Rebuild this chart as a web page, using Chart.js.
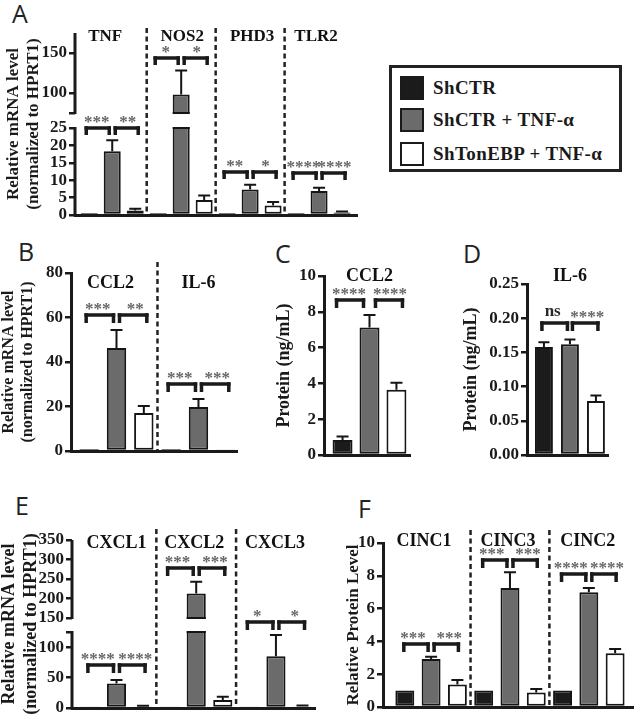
<!DOCTYPE html>
<html><head><meta charset="utf-8">
<script src="https://cdn.jsdelivr.net/npm/chart.js@4"></script>
<style>
html,body{margin:0;padding:0;background:#fff;}
body{width:634px;height:715px;position:relative;overflow:hidden;}
canvas{position:absolute;}
.lt{position:absolute;font-family:"Open Sans";font-size:25px;line-height:1;color:#222;}
#legend{position:absolute;left:389px;top:65px;width:227px;height:101px;border:3px solid #222;font-family:"Liberation Serif";font-weight:bold;font-size:19px;letter-spacing:0.4px;color:#1a1a1a;}
.li{position:absolute;left:8px;height:24px;display:flex;align-items:center;white-space:nowrap;}
.sw{width:20px;height:20px;border:2px solid #1a1a1a;margin-right:9px;}
</style></head><body>
<div class="lt" style="left:12px;top:1px">A</div>
<div class="lt" style="left:18px;top:239px">B</div>
<div class="lt" style="left:275px;top:241px">C</div>
<div class="lt" style="left:463px;top:241px">D</div>
<div class="lt" style="left:15px;top:493px">E</div>
<div class="lt" style="left:358px;top:496px">F</div>
<div id="legend"></div>
<script>
// ---------- data ----------
const seriesNames = ['ShCTR', 'ShCTR + TNF-\u03b1', 'ShTonEBP + TNF-\u03b1'];
const seriesColors = ['#1b1b1b', '#6b6b6b', '#ffffff'];

// Panel A
const aGenes = ['TNF', 'NOS2', 'PHD3', 'TLR2'];
const aCtr = [0.6, 0.6, 0.6, 0.6];
const aCtrErr = [0, 0, 0, 0];
const aTnf = [18.3, 98, 7.3, 6.9];
const aTnfErr = [3.2, 30, 1.4, 0.9];
const aTon = [1.3, 4.3, 2.7, 0.7];
const aTonErr = [0.5, 1.3, 1.0, 0.3];
const aTicks = [0, 5, 10, 15, 20, 25, 75, 100, 150];
const aTickLabels = ['0', '5', '10', '15', '20', '25', '', '100', '150'];
const aSigY = [25, 144, 12.4, 12];
const aSigL = ['***', '*', '**', '****'];
const aSigR = ['**', '*', '*', '****'];

// Panel B
const bGenes = ['CCL2', 'IL-6'];
const bCtr = [0.9, 0.9];
const bCtrErr = [0, 0];
const bTnf = [46.3, 19.8];
const bTnfErr = [8.1, 3.6];
const bTon = [17.1, 0.5];
const bTonErr = [3.1, 0];
const bTicks = [0, 20, 40, 60, 80];
const bTickLabels = ['0', '20', '40', '60', '80'];
const bSigY = [61, 30];
const bSigL = ['***', '***'];
const bSigR = ['**', '***'];

// Panel C
const cGenes = ['CCL2'];
const cCtr = [0.84];
const cCtrErr = [0.2];
const cTnf = [7.12];
const cTnfErr = [0.7];
const cTon = [3.65];
const cTonErr = [0.38];
const cTicks = [0, 2, 4, 6, 8, 10];
const cTickLabels = ['0', '2', '4', '6', '8', '10'];
const cSigY = [8.65];
const cSigL = ['****'];
const cSigR = ['****'];

// Panel D
const dGenes = ['IL-6'];
const dCtr = [0.158];
const dCtrErr = [0.007];
const dTnf = [0.162];
const dTnfErr = [0.007];
const dTon = [0.079];
const dTonErr = [0.008];
const dTicks = [0, 0.05, 0.10, 0.15, 0.20, 0.25];
const dTickLabels = ['0.00', '0.05', '0.10', '0.15', '0.20', '0.25'];
const dSigY = [0.193];
const dSigL = ['ns'];
const dSigR = ['****'];

// Panel E
const eGenes = ['CXCL1', 'CXCL2', 'CXCL3'];
const eCtr = [2.5, 2.5, 2.5];
const eCtrErr = [0, 0, 0];
const eTnf = [40.4, 213, 85];
const eTnfErr = [5.6, 30, 35];
const eTon = [2.5, 13, 2.5];
const eTonErr = [1, 5.5, 1.5];
const eTicks = [0, 50, 100, 125, 150, 200, 250, 300, 350];
const eTickLabels = ['0', '50', '100', '', '150', '200', '250', '300', '350'];
const eSigY = [70, 278, 142];
const eSigL = ['****', '***', '*'];
const eSigR = ['****', '***', '*'];

// Panel F
const fGenes = ['CINC1', 'CINC3', 'CINC2'];
const fCtr = [1, 1, 1];
const fCtrErr = [0, 0, 0];
const fTnf = [2.92, 7.26, 7.0];
const fTnfErr = [0.15, 0.95, 0.26];
const fTon = [1.37, 0.88, 3.27];
const fTonErr = [0.27, 0.22, 0.27];
const fTicks = [0, 2, 4, 6, 8, 10];
const fTickLabels = ['0', '2', '4', '6', '8', '10'];
const fSigY = [3.85, 8.95, 8.1];
const fSigL = ['***', '***', '****'];
const fSigR = ['***', '***', '****'];

// ---------- legend ----------
(function () {
  const lg = document.getElementById('legend');
  const tops = [8, 40, 74];
  seriesNames.forEach((n, k) => {
    const d = document.createElement('div');
    d.className = 'li'; d.style.top = tops[k] + 'px';
    const s = document.createElement('div'); s.className = 'sw'; s.style.background = seriesColors[k];
    const t = document.createElement('span'); t.textContent = n;
    d.appendChild(s); d.appendChild(t); lg.appendChild(d);
  });
})();

// ---------- broken linear scale ----------
class BrokenScale extends Chart.LinearScale {
  getPixelForValue(value) {
    if (value === null || value === undefined || isNaN(value)) return NaN;
    const o = this.options.brk;
    const min = this.min, max = this.max;
    let d;
    if (value <= o.lowMax) d = (value - min) / (o.lowMax - min) * o.f1;
    else if (value < o.highMin) d = o.f1 + (value - o.lowMax) / (o.highMin - o.lowMax) * o.fg;
    else d = o.f1 + o.fg + (value - o.highMin) / (max - o.highMin) * (1 - o.f1 - o.fg);
    return this.getPixelForDecimal(d);
  }
  getValueForPixel(pixel) {
    const o = this.options.brk;
    const d = this.getDecimalForPixel(pixel);
    if (d <= o.f1) return this.min + d / o.f1 * (o.lowMax - this.min);
    if (d < o.f1 + o.fg) return o.lowMax + (d - o.f1) / o.fg * (o.highMin - o.lowMax);
    return o.highMin + (d - o.f1 - o.fg) / (1 - o.f1 - o.fg) * (this.max - o.highMin);
  }
}
BrokenScale.id = 'broken';
BrokenScale.defaults = Chart.LinearScale.defaults;
Chart.register(BrokenScale);

const SERIF = '"Liberation Serif"';

function decor(cfg) {
  return {
    id: 'decor',
    beforeDatasetsDraw(chart) {
      const { ctx, chartArea, scales: { x } } = chart;
      if (cfg.sepTop == null) return;
      ctx.save();
      ctx.strokeStyle = '#222'; ctx.lineWidth = 2.5; ctx.setLineDash([5, 3.5]);
      for (let i = 0; i < cfg.groups.length - 1; i++) {
        const px = x.getPixelForValue(i + 0.5);
        ctx.beginPath(); ctx.moveTo(px, cfg.sepTop - cfg.y); ctx.lineTo(px, chartArea.bottom); ctx.stroke();
      }
      ctx.restore();
    },
    afterDatasetsDraw(chart) {
      const { ctx, scales: { y } } = chart;
      ctx.save();
      ctx.setLineDash([]);
      if (cfg.brk) {
        const yTop = y.getPixelForValue(cfg.brk.highMin), yBot = y.getPixelForValue(cfg.brk.lowMax);
        chart.data.datasets.forEach((ds, k) => {
          chart.getDatasetMeta(k).data.forEach((el, i) => {
            if (ds.data[i].y > cfg.brk.lowMax) {
              const hw = el.width / 2;
              ctx.fillStyle = '#fff';
              ctx.fillRect(el.x - hw - 2, yTop + 1, 2 * hw + 4, yBot - yTop - 2);
              ctx.fillStyle = '#151515';
              ctx.fillRect(el.x - hw, yTop - 1, 2 * hw, 2);
              ctx.fillRect(el.x - hw, yBot - 1, 2 * hw, 2);
            }
          });
        });
      }
      ctx.strokeStyle = '#151515'; ctx.lineWidth = 2;
      chart.data.datasets.forEach((ds, k) => {
        chart.getDatasetMeta(k).data.forEach((el, i) => {
          const e = ds.errs[i]; if (!e) return;
          const yt = y.getPixelForValue(ds.data[i].y + e);
          ctx.beginPath();
          ctx.moveTo(el.x, el.y); ctx.lineTo(el.x, yt);
          ctx.moveTo(el.x - cfg.cap / 2, yt); ctx.lineTo(el.x + cfg.cap / 2, yt);
          ctx.stroke();
        });
      });
      ctx.restore();
    },
    afterDraw(chart) {
      const { ctx, scales: { x, y } } = chart;
      ctx.save();
      ctx.setLineDash([]);
      if (cfg.brk) {
        ctx.strokeStyle = '#1a1a1a'; ctx.lineWidth = 3;
        const ax = y.right;
        ctx.beginPath();
        ctx.moveTo(ax, y.getPixelForValue(cfg.yMin) + 1.5); ctx.lineTo(ax, y.getPixelForValue(cfg.brk.lowMax) - 1);
        ctx.moveTo(ax, y.getPixelForValue(cfg.brk.highMin) + 1); ctx.lineTo(ax, y.getPixelForValue(cfg.yMax));
        ctx.stroke();
      }
      // group labels
      ctx.fillStyle = '#111';
      ctx.font = 'bold ' + cfg.labelSize + 'px ' + SERIF;
      ctx.textAlign = 'center'; ctx.textBaseline = 'alphabetic';
      cfg.groups.forEach((g, i) => {
        ctx.fillText(g, x.getPixelForValue(i) + (cfg.labelDx ? cfg.labelDx[i] : 0), cfg.labelBase - cfg.y);
      });
      // significance brackets
      const m = [0, 1, 2].map(k => chart.getDatasetMeta(k).data);
      const lw = 3.5;
      cfg.sigY.forEach((sv, i) => {
        const by = Math.round(y.getPixelForValue(sv));
        const x0 = m[0][i].x, x1 = m[1][i].x, x2 = m[2][i].x;
        const segs = [[x0 - cfg.a, x1 - cfg.g, cfg.sigL[i], -cfg.ts], [x1 + cfg.g, x2 + cfg.a, cfg.sigR[i], cfg.ts]];
        segs.forEach(([xa, xb, t, sh]) => {
          ctx.fillStyle = '#1a1a1a';
          ctx.fillRect(xa - lw / 2, by - lw / 2, xb - xa + lw, lw);
          ctx.fillRect(xa - lw / 2, by - lw / 2, lw, cfg.leg + lw / 2);
          ctx.fillRect(xb - lw / 2, by - lw / 2, lw, cfg.leg + lw / 2);
          const isStar = t.indexOf('*') >= 0;
          ctx.fillStyle = isStar ? '#666' : '#2a2a2a';
          ctx.font = 'bold ' + cfg.starSize + 'px ' + SERIF;
          ctx.fillText(t, (xa + xb) / 2 + sh, isStar ? by - 1 : by - 7);
        });
      });
      ctx.restore();
    }
  };
}

function makePanel(cfg) {
  const cv = document.createElement('canvas');
  cv.width = cfg.w; cv.height = cfg.h;
  cv.style.left = cfg.x + 'px'; cv.style.top = cfg.y + 'px';
  cv.style.width = cfg.w + 'px'; cv.style.height = cfg.h + 'px';
  document.body.appendChild(cv);
  const A = cfg.area;
  const yWidth = A.l - cfg.x - cfg.titlePad;
  const datasets = cfg.series.map((vals, k) => ({
    label: seriesNames[k],
    data: vals.map((v, i) => ({ x: i, y: v })),
    errs: cfg.errs[k],
    backgroundColor: seriesColors[k],
    borderColor: '#151515', borderWidth: 2, borderSkipped: false,
    categoryPercentage: cfg.cp, barPercentage: cfg.bp
  }));
  const yOpts = {
    type: cfg.brk ? 'broken' : 'linear',
    min: cfg.yMin, max: cfg.yMax, bounds: 'data',
    afterBuildTicks: s => { s.ticks = cfg.ticks.map(v => ({ value: v })); },
    afterFit: s => { s.width = yWidth; },
    ticks: {
      autoSkip: false, padding: 2, color: '#1a1a1a',
      font: { family: 'Liberation Serif', weight: 'bold', size: cfg.tickSize },
      callback: (v, i) => cfg.tickLabels[i]
    },
    grid: { drawOnChartArea: false, drawTicks: true, tickLength: 6, color: '#1a1a1a', lineWidth: 2.5 },
    border: { display: !cfg.brk, color: '#1a1a1a', width: 3 },
    title: {
      display: true, text: cfg.title, color: '#1a1a1a', padding: 0,
      font: { family: 'Liberation Serif', weight: 'bold', size: cfg.titleSize, lineHeight: cfg.titleLH }
    }
  };
  if (cfg.brk) yOpts.brk = cfg.brk;
  return new Chart(cv, {
    type: 'bar',
    data: { datasets },
    options: {
      responsive: false, animation: false, devicePixelRatio: 1,
      layout: { padding: { left: cfg.titlePad, top: A.t - cfg.y, right: cfg.x + cfg.w - A.r, bottom: cfg.y + cfg.h - A.b } },
      plugins: { legend: { display: false }, tooltip: { enabled: false } },
      scales: {
        x: {
          type: 'linear', min: cfg.xMin, max: cfg.xMax, offset: false, bounds: 'data',
          afterBuildTicks: s => { s.ticks = cfg.groups.map((g, i) => ({ value: i })); },
          afterFit: s => { s.height = 0; },
          ticks: { display: false },
          grid: { display: false, offset: false, drawTicks: false },
          border: { display: true, color: '#1a1a1a', width: 3 }
        },
        y: yOpts
      }
    },
    plugins: [decor(cfg)]
  });
}

const twoLine = ['Relative mRNA level', '(normalized to HPRT1)'];

makePanel({
  x: 0, y: 0, w: 370, h: 228, area: { l: 75, t: 33, r: 357, b: 215 },
  titlePad: 3, title: twoLine, titleSize: 17, titleLH: 1.2, tickSize: 17,
  groups: aGenes, series: [aCtr, aTnf, aTon], errs: [aCtrErr, aTnfErr, aTonErr],
  ticks: aTicks, tickLabels: aTickLabels, yMin: 0, yMax: 175,
  brk: { lowMax: 25, highMin: 75, f1: 0.478, fg: 0.0824 },
  xMin: -0.54, xMax: 3.55, cp: 1.0, bp: 0.74, cap: 12,
  labelSize: 17, labelBase: 41, labelDx: [-7, 1, 2, -3], sepTop: 28,
  sigY: aSigY, sigL: aSigL, sigR: aSigR, a: 3, g: 3, leg: 7, starSize: 17, ts: 1
});

makePanel({
  x: 0, y: 230, w: 245, h: 235, area: { l: 71, t: 273, r: 237, b: 451 },
  titlePad: 0, title: twoLine, titleSize: 16, titleLH: 1.15, tickSize: 17,
  groups: bGenes, series: [bCtr, bTnf, bTon], errs: [bCtrErr, bTnfErr, bTonErr],
  ticks: bTicks, tickLabels: bTickLabels, yMin: 0, yMax: 80,
  xMin: -0.555, xMax: 1.47, cp: 1.0, bp: 0.71, cap: 12,
  labelSize: 18, labelBase: 288, labelDx: [-6, 0], sepTop: 262,
  sigY: bSigY, sigL: bSigL, sigR: bSigR, a: 3, g: 3, leg: 8, starSize: 17, ts: 2
});

makePanel({
  x: 245, y: 230, w: 175, h: 240, area: { l: 324, t: 276, r: 410, b: 455 },
  titlePad: 29, title: 'Protein (ng/mL)', titleSize: 18, titleLH: 1.2, tickSize: 17,
  groups: cGenes, series: [cCtr, cTnf, cTon], errs: [cCtrErr, cTnfErr, cTonErr],
  ticks: cTicks, tickLabels: cTickLabels, yMin: 0, yMax: 10,
  xMin: -0.529, xMax: 0.471, cp: 0.94, bp: 0.74, cap: 12,
  labelSize: 18, labelBase: 281, sepTop: null,
  sigY: cSigY, sigL: cSigL, sigR: cSigR, a: 6, g: 6, leg: 8, starSize: 17, ts: 1
});

makePanel({
  x: 420, y: 230, w: 214, h: 240, area: { l: 527, t: 284, r: 608, b: 455 },
  titlePad: 41, title: 'Protein (ng/mL)', titleSize: 18, titleLH: 1.2, tickSize: 17,
  groups: dGenes, series: [dCtr, dTnf, dTon], errs: [dCtrErr, dTnfErr, dTonErr],
  ticks: dTicks, tickLabels: dTickLabels, yMin: 0, yMax: 0.25,
  xMin: -0.53, xMax: 0.47, cp: 0.963, bp: 0.69, cap: 11,
  labelSize: 18, labelBase: 281, sepTop: null,
  sigY: dSigY, sigL: dSigL, sigR: dSigR, a: 2, g: 2.5, leg: 8, starSize: 17, ts: 2
});

makePanel({
  x: -2, y: 470, w: 322, h: 252, area: { l: 72, t: 540, r: 315, b: 708 },
  titlePad: 0, title: twoLine, titleSize: 18, titleLH: 1.25, tickSize: 17,
  groups: eGenes, series: [eCtr, eTnf, eTon], errs: [eCtrErr, eTnfErr, eTonErr],
  ticks: eTicks, tickLabels: eTickLabels, yMin: 0, yMax: 350,
  brk: { lowMax: 125, highMin: 150, f1: 0.4524, fg: 0.0833 },
  xMin: -0.558, xMax: 2.49, cp: 1.0, bp: 0.72, cap: 12,
  labelSize: 18, labelBase: 548, labelDx: [0, -2, -1], sepTop: 529,
  sigY: eSigY, sigL: eSigL, sigR: eSigR, a: 2, g: 3, leg: 8, starSize: 17, ts: 3
});

makePanel({
  x: 320, y: 470, w: 320, h: 252, area: { l: 383, t: 543, r: 633, b: 707 },
  titlePad: 23, title: 'Relative Protein Level', titleSize: 17, titleLH: 1.2, tickSize: 17,
  groups: fGenes, series: [fCtr, fTnf, fTon], errs: [fCtrErr, fTnfErr, fTonErr],
  ticks: fTicks, tickLabels: fTickLabels, yMin: 0, yMax: 10,
  xMin: -0.61, xMax: 2.56, cp: 1.0, bp: 0.72, cap: 12,
  labelSize: 18, labelBase: 546, labelDx: [-7, -2, -1], sepTop: 530,
  sigY: fSigY, sigL: fSigL, sigR: fSigR, a: 1, g: 3, leg: 8, starSize: 17, ts: 3
});
</script>
</body></html>
